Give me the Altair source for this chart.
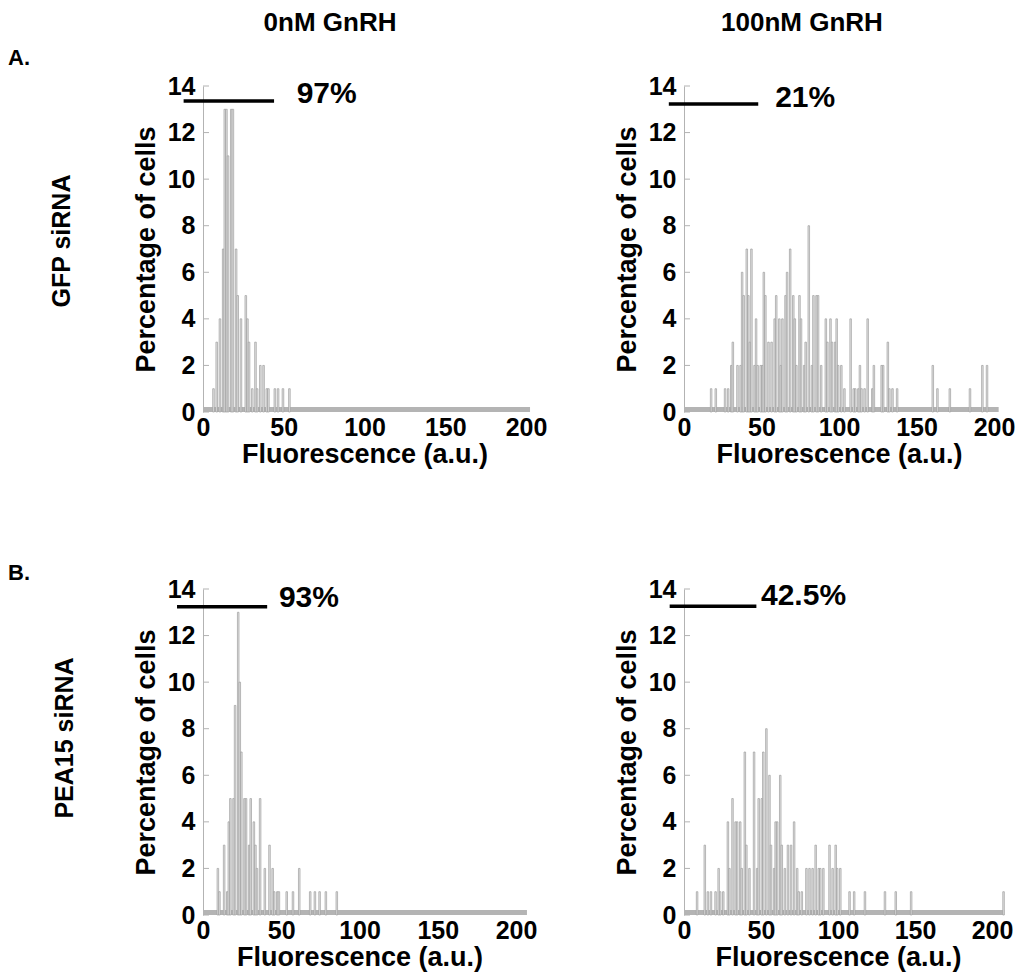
import altair as alt
import pandas as pd

FONT = "Liberation Sans"

# ---------------- data (bin start in a.u. -> percentage of cells) ----------------
gfp_0_bin = [6, 8, 10, 12, 13, 14, 15, 17, 18, 20, 21, 23, 26, 27, 28, 30, 32, 33, 35, 37, 39, 40, 44, 46, 49, 53]
gfp_0_pct = [1, 3, 4, 7, 13, 13, 11, 13, 13, 7, 5, 4, 5, 4, 3, 1, 3, 1, 2, 2, 1, 1, 1, 1, 1, 1]

gfp_100_bin = [17, 20, 26, 28, 30, 31, 34, 36, 37, 38, 40, 41, 42, 43, 45, 46, 47, 49, 50, 51,
               52, 54, 56, 58, 59, 61, 62, 63, 65, 66, 68, 70, 71, 72, 74, 75, 77, 78, 80, 82,
               83, 85, 86, 88, 91, 92, 94, 95, 97, 98, 99, 101, 103, 107, 109, 110, 112, 113, 114, 116,
               118, 121, 122, 127, 128, 131, 132, 134, 137, 160, 163, 171, 184, 192, 195]
gfp_100_pct = [1, 1, 1, 1, 2, 3, 2, 2, 6, 5, 7, 5, 3, 7, 2, 4, 2, 2, 2, 6,
               5, 3, 3, 4, 5, 4, 2, 4, 5, 6, 7, 5, 4, 2, 5, 4, 2, 3, 8, 2,
               5, 5, 5, 2, 4, 3, 4, 3, 3, 4, 2, 2, 1, 4, 1, 1, 1, 2, 1, 1,
               4, 1, 2, 2, 2, 3, 1, 1, 1, 2, 1, 1, 1, 2, 2]

pea_0_bin = [9, 10, 13, 15, 16, 17, 19, 20, 22, 23, 24, 26, 27, 29, 30, 32, 33, 34, 36, 39,
             42, 44, 45, 47, 48, 53, 57, 61, 68, 71, 74, 78, 85]
pea_0_pct = [2, 1, 3, 1, 4, 5, 5, 9, 13, 10, 7, 5, 5, 3, 5, 4, 3, 2, 5, 2,
             3, 2, 1, 1, 1, 1, 1, 2, 1, 1, 1, 1, 1]

pea_100_bin = [8, 13, 15, 17, 20, 22, 23, 25, 28, 29, 31, 33, 34, 36, 37, 39, 40, 42, 45, 47,
               48, 50, 51, 53, 55, 56, 58, 59, 60, 62, 63, 65, 67, 69, 71, 73, 74, 76, 79, 81,
               83, 85, 87, 88, 90, 94, 96, 98, 99, 101, 107, 110, 117, 130, 137, 147, 207]
pea_100_pct = [1, 3, 1, 1, 1, 2, 1, 1, 4, 2, 5, 4, 4, 4, 2, 7, 3, 2, 7, 2,
               5, 5, 7, 8, 6, 3, 2, 4, 4, 6, 3, 2, 3, 3, 4, 2, 1, 1, 2, 2,
               2, 3, 2, 2, 2, 3, 2, 3, 2, 2, 1, 1, 1, 1, 1, 1, 1]

# threshold marker: [start, end, level] and percentage label [text, x, level]
gfp_0_thr = [-12, 44, 13.36]
gfp_0_lab = ["97%", 58, 13.66]
gfp_100_thr = [-9.8, 47.9, 13.23]
gfp_100_lab = ["21%", 58.8, 13.47]
pea_0_thr = [-16.6, 41, 13.24]
pea_0_lab = ["93%", 48.5, 13.6]
pea_100_thr = [-9.3, 47, 13.26]
pea_100_lab = ["42.5%", 50, 13.7]

x_ticks = [0, 50, 100, 150, 200]
y_ticks = [0, 2, 4, 6, 8, 10, 12, 14]

col_titles = ["0nM GnRH", "100nM GnRH"]
row_titles = ["GFP siRNA", "PEA15 siRNA"]
row_letters = ["A.", "B."]


def text_layer(t, px, py, size, angle=0, align="center"):
    return alt.Chart(pd.DataFrame({"t": [t]})).mark_text(
        font=FONT, fontSize=size, fontWeight="bold", color="black",
        align=align, baseline="middle", angle=angle
    ).encode(text="t:N", x=alt.value(px), y=alt.value(py))


def panel(bins, pct, thr, lab, width, strip_end, extra):
    xs = alt.Scale(domain=[0, 200], nice=False, zero=False)
    ys = alt.Scale(domain=[0, 14], nice=False)
    xax = alt.Axis(values=x_ticks, domain=False, ticks=False, labelPadding=3,
                   titlePadding=1, labelFlush=False, grid=False, format="d")
    yax = alt.Axis(values=y_ticks, domainColor="#b3b3b3", domainWidth=1, ticks=False,
                   labelPadding=8, titlePadding=7, grid=False, format="d")

    def X(f):
        return alt.X(f, type="quantitative", scale=xs, axis=xax, title="Fluorescence (a.u.)")

    def Y(f):
        return alt.Y(f, type="quantitative", scale=ys, axis=yax, title="Percentage of cells")

    df = pd.DataFrame({"bin": bins, "pct": pct})
    df["bin_end"] = df["bin"] + 1
    df["base"] = 0

    strip = alt.Chart(pd.DataFrame({"a": [0], "b": [strip_end], "lo": [0], "hi": [0.22]})).mark_rect(
        color="#b4b4b4").encode(x=X("a"), x2="b", y=Y("lo"), y2="hi")
    bars = alt.Chart(df).mark_rect(fill="#e2e2e2", stroke="#9e9e9e", strokeWidth=0.7).encode(
        x=X("bin"), x2="bin_end", y=Y("pct"), y2="base")
    ticks = alt.Chart(pd.DataFrame({"tk": y_ticks})).mark_rule(color="#b3b3b3", strokeWidth=1).encode(
        x=alt.value(0), x2=alt.value(6), y=Y("tk"))
    rule = alt.Chart(pd.DataFrame({"a": [thr[0]], "b": [thr[1]], "lvl": [thr[2]]})).mark_rule(
        color="black", strokeWidth=3.5).encode(x=X("a"), x2="b", y=Y("lvl"))
    label = alt.Chart(pd.DataFrame({"t": [lab[0]], "a": [lab[1]], "lvl": [lab[2]]})).mark_text(
        align="left", baseline="middle", font=FONT, fontSize=30, fontWeight="bold", color="black"
    ).encode(x=X("a"), y=Y("lvl"), text="t:N")

    layers = [strip, bars, ticks, rule, label] + extra
    return alt.layer(*layers).properties(width=width, height=326)


a_left = panel(gfp_0_bin, gfp_0_pct, gfp_0_thr, gfp_0_lab, 323, 202.5, [
    text_layer(row_letters[0], -195, -28, 22, align="left"),
    text_layer(col_titles[0], 127, -63, 26),
    text_layer(row_titles[0], -141, 155, 25, angle=270),
])
a_right = panel(gfp_100_bin, gfp_100_pct, gfp_100_thr, gfp_100_lab, 310, 203, [
    text_layer(col_titles[1], 118, -63, 26),
])
b_left = panel(pea_0_bin, pea_0_pct, pea_0_thr, pea_0_lab, 313, 207, [
    text_layer(row_letters[1], -195, -16, 22, align="left"),
    text_layer(row_titles[1], -138, 149, 25, angle=270),
])
b_right = panel(pea_100_bin, pea_100_pct, pea_100_thr, pea_100_lab, 308, 208, [])

chart = alt.concat(
    a_left, a_right, b_left, b_right, columns=2, bounds="flush",
    spacing={"row": 177, "column": 158}
).properties(
    padding={"left": 0, "top": 2, "right": 5, "bottom": 5}
).configure_view(stroke=None).configure_axis(
    labelFont=FONT, titleFont=FONT, labelFontWeight="bold", titleFontWeight="bold",
    labelFontSize=25, titleFontSize=27, labelColor="black", titleColor="black"
)

chart.save("out.html", embed_options={"renderer": "svg", "actions": False})
